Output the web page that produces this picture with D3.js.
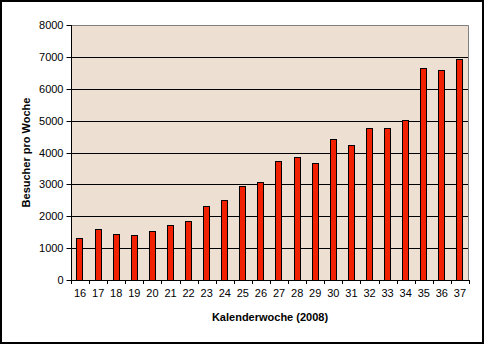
<!DOCTYPE html>
<html>
<head>
<meta charset="utf-8">
<script src="https://cdn.jsdelivr.net/npm/d3@7"></script>
<style>
  html, body { margin: 0; padding: 0; background: #fff; }
  svg { display: block; font-family: "Liberation Sans", Arial, sans-serif; }
</style>
</head>
<body>
<svg id="chart" width="485" height="345"></svg>
<script>
// Wochen des Jahres 2008 und Besucherzahlen je Woche
const weeks = ["16","17","18","19","20","21","22","23","24","25","26","27","28","29","30","31","32","33","34","35","36","37"];
const visitors = [1310,1590,1435,1405,1530,1715,1845,2315,2500,2945,3065,3725,3850,3665,4415,4230,4760,4760,5010,6645,6580,6925];
const yTicks = [0,1000,2000,3000,4000,5000,6000,7000,8000];

const svg = d3.select("#chart");
const W = 485, H = 345;
const plot = { left: 71, top: 25, right: 469, bottom: 280 };

// Rahmen um das gesamte Diagramm
svg.append("rect")
  .attr("x", 1).attr("y", 1).attr("width", W - 3).attr("height", H - 3)
  .attr("fill", "#fff").attr("stroke", "#000").attr("stroke-width", 2);

const x = d3.scaleBand().domain(weeks)
  .range([plot.left, plot.right]).paddingInner(0.6).paddingOuter(0.3);
const xBounds = d3.scaleBand().domain(weeks)
  .range([plot.left, plot.right]).padding(0);
const y = d3.scaleLinear().domain([0, 8000]).range([plot.bottom, plot.top]);

const crisp = v => Math.round(v) + 0.5;

// Zeichenfläche
svg.append("rect")
  .attr("x", plot.left).attr("y", plot.top)
  .attr("width", plot.right - plot.left).attr("height", plot.bottom - plot.top)
  .attr("fill", "#EEDFD3");

// Gitternetzlinien
svg.append("g").selectAll("line")
  .data(yTicks.filter(t => t > 0 && t < 8000))
  .join("line")
  .attr("x1", plot.left).attr("x2", plot.right)
  .attr("y1", d => crisp(y(d))).attr("y2", d => crisp(y(d)))
  .attr("stroke", "#000").attr("stroke-width", 1);

// Rahmen oben und rechts
svg.append("path")
  .attr("d", `M${plot.left},${crisp(plot.top - 0.5)}H${crisp(plot.right - 1)}V${plot.bottom}`)
  .attr("fill", "none").attr("stroke", "#808080").attr("stroke-width", 1);

// Balken
svg.append("g").selectAll("rect")
  .data(weeks)
  .join("rect")
  .attr("x", d => Math.round(x(d)) + 0.5)
  .attr("y", (d, i) => Math.round(y(visitors[i])) + 0.5)
  .attr("width", Math.round(x.bandwidth()) - 1)
  .attr("height", (d, i) => Math.round(y(0)) - Math.round(y(visitors[i])))
  .attr("fill", "#F02000")
  .attr("stroke", "#000").attr("stroke-width", 1);

// Y-Achse
const yAxis = svg.append("g")
  .attr("transform", `translate(${plot.left + 0.5},0)`)
  .call(d3.axisLeft(y).tickValues(yTicks).tickSize(5).tickPadding(3).tickFormat(d3.format("d")));
yAxis.select(".domain").attr("stroke", "#000").attr("d", `M0,${plot.top}V${plot.bottom + 0.5}`);
yAxis.selectAll(".tick line").attr("stroke", "#000");
yAxis.selectAll(".tick").attr("transform", d => `translate(0,${crisp(y(d))})`);
yAxis.selectAll("text").attr("font-size", 11).attr("fill", "#000")
  .attr("font-family", "Liberation Sans, Arial, sans-serif");

// X-Achse: Beschriftung mittig unter den Balken, Striche an den Kategoriegrenzen
const xAxis = svg.append("g")
  .attr("transform", `translate(0,${crisp(plot.bottom)})`)
  .call(d3.axisBottom(x).tickSize(0).tickPadding(9));
xAxis.select(".domain").attr("stroke", "#000").attr("d", `M${plot.left},0H${plot.right}`);
xAxis.selectAll("text").attr("font-size", 11).attr("fill", "#000")
  .attr("font-family", "Liberation Sans, Arial, sans-serif");
xAxis.selectAll(".tick").attr("transform", d => `translate(${x(d) + x.bandwidth() / 2},0)`);

const bounds = weeks.map(d => xBounds(d)).concat([xBounds.range()[1]]);
svg.append("g").selectAll("line")
  .data(bounds)
  .join("line")
  .attr("x1", d => crisp(d)).attr("x2", d => crisp(d))
  .attr("y1", plot.bottom).attr("y2", plot.bottom + 4)
  .attr("stroke", "#000");

// Achsentitel
svg.append("text")
  .attr("x", (plot.left + plot.right) / 2).attr("y", 321)
  .attr("text-anchor", "middle")
  .attr("font-size", 11).attr("font-weight", "bold")
  .text("Kalenderwoche (2008)");

svg.append("text")
  .attr("transform", `translate(30,${(plot.top + plot.bottom) / 2}) rotate(-90)`)
  .attr("text-anchor", "middle")
  .attr("font-size", 11).attr("font-weight", "bold")
  .text("Besucher pro Woche");
</script>
</body>
</html>
